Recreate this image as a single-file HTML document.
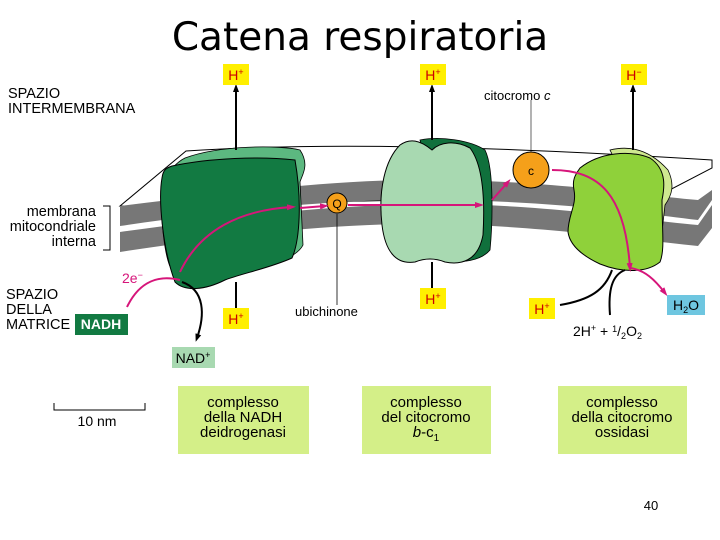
<!DOCTYPE html>
<html><head><style>
body{margin:0;background:#fff;}
svg{display:block;font-family:"Liberation Sans",Arial,sans-serif;}
</style></head><body>
<svg width="720" height="540" viewBox="0 0 720 540" xmlns="http://www.w3.org/2000/svg">
<defs>
<marker id="ab" markerWidth="8" markerHeight="8" refX="4" refY="4" orient="auto" markerUnits="userSpaceOnUse"><path d="M0,1 L8,4 L0,7 Z" fill="#000"/></marker>
<marker id="am" markerWidth="9" markerHeight="8" refX="5" refY="4" orient="auto" markerUnits="userSpaceOnUse"><path d="M0,1 L9,4 L0,7 Z" fill="#d6157a"/></marker>
</defs>
<text x="360" y="50" text-anchor="middle" font-size="39" font-family="'Comic Sans MS','DejaVu Sans',sans-serif" fill="#000">Catena respiratoria</text>

<g font-size="14.5">
<text x="8" y="98">SPAZIO</text>
<text x="8" y="113">INTERMEMBRANA</text>
<text x="96" y="216" text-anchor="end">membrana</text>
<text x="96" y="231" text-anchor="end">mitocondriale</text>
<text x="96" y="246" text-anchor="end">interna</text>
<text x="6" y="299">SPAZIO</text>
<text x="6" y="314">DELLA</text>
<text x="6" y="329">MATRICE</text>
</g>
<path d="M103,206 H110 V250 H103" fill="none" stroke="#000" stroke-width="1"/>

<!-- top plane -->
<path d="M120,206 L186,151 C350,140 550,150 712,160 L712,168 L660,195 L120,206 Z" fill="#fff" stroke="#000" stroke-width="1"/>
<path d="M120,206 C250,190 350,178 450,180 C560,182 640,195 698,200 L712,190 L712,200 L698,220 C640,213 560,202 450,200 C350,198 250,207 120,226 Z" fill="#777" />
<path d="M120,232 C250,214 350,203 450,204 C560,206 640,220 698,225 L712,205 L712,228 L698,246 C640,240 560,228 450,224 C350,222 250,232 120,252 Z" fill="#777"/>

<!-- complex I -->
<path d="M185,158 C220,145 280,145 300,150 C310,165 302,175 300,182 L303,245 C295,262 250,270 240,275 L190,285 C170,280 165,260 162,220 C162,190 165,168 185,158 Z" fill="#5cb880" stroke="#000" stroke-width="0.8"/>
<path d="M172,166 C210,158 260,156 295,160 C302,200 300,240 292,258 C270,268 240,274 225,280 C205,290 185,292 175,282 C163,250 158,200 162,178 C163,170 166,168 172,166 Z" fill="#127a42" stroke="#000" stroke-width="1"/>
<!-- complex III -->
<path d="M420,140 C440,136 470,140 485,150 C495,170 492,230 490,250 C480,262 460,262 450,262 L420,140 Z" fill="#10703c" stroke="#000" stroke-width="0.8"/>
<path d="M400,145 C410,138 420,140 432,150 C440,142 455,140 470,148 C483,165 485,200 483,235 C478,262 460,265 445,262 C435,258 425,258 415,262 C395,265 385,250 382,225 C378,190 385,160 400,145 Z" fill="#a8d9b1" stroke="#000" stroke-width="1"/>
<!-- complex IV -->
<path d="M610,150 C630,145 650,150 668,170 C675,185 672,195 665,205 L660,250 L610,150 Z" fill="#cfe890" stroke="#000" stroke-width="0.8"/>
<path d="M580,168 C600,152 630,150 650,158 C668,170 664,190 662,200 C662,230 665,250 660,262 C645,274 620,272 600,264 C585,257 570,247 568,232 C568,215 577,205 574,190 C572,180 575,175 580,168 Z" fill="#8fd13a" stroke="#000" stroke-width="1"/>

<!-- Q and c -->
<line x1="337" y1="214" x2="337" y2="305" stroke="#000" stroke-width="0.8"/>
<circle cx="337" cy="203" r="10" fill="#f5a01a" stroke="#000" stroke-width="1"/>
<text x="337" y="208" font-size="12" text-anchor="middle">Q</text>
<line x1="531" y1="100" x2="531" y2="152" stroke="#000" stroke-width="0.6"/>
<circle cx="531" cy="170" r="18" fill="#f5a01a" stroke="#000" stroke-width="1"/>
<text x="531" y="175" font-size="12" text-anchor="middle">c</text>
<text x="484" y="100" font-size="13">citocromo <tspan font-style="italic">c</tspan></text>
<text x="295" y="316" font-size="13">ubichinone</text>

<!-- magenta paths -->
<path d="M180,272 C200,230 240,210 292,207" fill="none" stroke="#d6157a" stroke-width="2" marker-end="url(#am)"/>
<path d="M300,208 L325,206" fill="none" stroke="#d6157a" stroke-width="2" marker-end="url(#am)"/>
<path d="M348,205 L480,205" fill="none" stroke="#d6157a" stroke-width="2" marker-end="url(#am)"/>
<path d="M492,200 L508,182" fill="none" stroke="#d6157a" stroke-width="2" marker-end="url(#am)"/>
<path d="M552,170 C600,170 625,195 630,268" fill="none" stroke="#d6157a" stroke-width="2" marker-end="url(#am)"/>
<path d="M630,268 C645,270 655,280 665,293" fill="none" stroke="#d6157a" stroke-width="2" marker-end="url(#am)"/>
<path d="M127,307 C140,280 160,275 180,280" fill="none" stroke="#d6157a" stroke-width="2"/>
<text x="122" y="283" font-size="14" fill="#d6157a">2e<tspan font-size="9" dy="-5">−</tspan></text>

<!-- black arrows -->
<line x1="236" y1="150" x2="236" y2="88" stroke="#000" stroke-width="2" marker-end="url(#ab)"/>
<line x1="236" y1="282" x2="236" y2="310" stroke="#000" stroke-width="2"/>
<line x1="432" y1="140" x2="432" y2="88" stroke="#000" stroke-width="2" marker-end="url(#ab)"/>
<line x1="432" y1="262" x2="432" y2="290" stroke="#000" stroke-width="2"/>
<line x1="633" y1="150" x2="633" y2="88" stroke="#000" stroke-width="2" marker-end="url(#ab)"/>
<path d="M182,282 C205,290 205,315 197,338" fill="none" stroke="#000" stroke-width="2" marker-end="url(#ab)"/>
<path d="M560,305 C590,300 605,290 612,270" fill="none" stroke="#000" stroke-width="2"/>
<path d="M610,315 C608,290 612,275 625,270" fill="none" stroke="#000" stroke-width="2"/>

<g font-size="14">
<rect x="223" y="64" width="26" height="21" fill="#ffef00"/><text x="236" y="80" text-anchor="middle" fill="#c00">H<tspan font-size="9" dy="-5">+</tspan></text>
<rect x="420" y="64" width="26" height="21" fill="#ffef00"/><text x="433" y="80" text-anchor="middle" fill="#c00">H<tspan font-size="9" dy="-5">+</tspan></text>
<rect x="621" y="64" width="26" height="21" fill="#ffef00"/><text x="634" y="80" text-anchor="middle" fill="#c00">H<tspan font-size="9" dy="-5">−</tspan></text>
<rect x="223" y="308" width="26" height="21" fill="#ffef00"/><text x="236" y="324" text-anchor="middle" fill="#c00">H<tspan font-size="9" dy="-5">+</tspan></text>
<rect x="420" y="288" width="26" height="21" fill="#ffef00"/><text x="433" y="304" text-anchor="middle" fill="#c00">H<tspan font-size="9" dy="-5">+</tspan></text>
<rect x="529" y="298" width="26" height="21" fill="#ffef00"/><text x="542" y="314" text-anchor="middle" fill="#c00">H<tspan font-size="9" dy="-5">+</tspan></text>
<rect x="667" y="295" width="38" height="20" fill="#6ec6e0"/><text x="686" y="310" text-anchor="middle">H<tspan font-size="9" dy="3">2</tspan><tspan dy="-3">O</tspan></text>
<rect x="75" y="314" width="53" height="21" fill="#127a42"/><text x="101" y="329" text-anchor="middle" fill="#fff" font-weight="bold">NADH</text>
<rect x="172" y="347" width="43" height="21" fill="#a8d9b1"/><text x="193" y="363" text-anchor="middle">NAD<tspan font-size="9" dy="-5">+</tspan></text>
<text x="573" y="336">2H<tspan font-size="9" dy="-5">+</tspan><tspan dy="5"> + </tspan><tspan font-size="9" dy="-4">1</tspan><tspan dy="4">/</tspan><tspan font-size="9" dy="3">2</tspan><tspan dy="-3">O</tspan><tspan font-size="9" dy="3">2</tspan></text>
</g>

<path d="M54,403 V410 H145 V403" fill="none" stroke="#000" stroke-width="1"/>
<text x="97" y="426" font-size="14" text-anchor="middle">10 nm</text>

<g font-size="15" text-anchor="middle">
<rect x="178" y="386" width="131" height="68" fill="#d4ef88"/>
<text x="243" y="407">complesso</text><text x="243" y="422">della NADH</text><text x="243" y="437">deidrogenasi</text>
<rect x="362" y="386" width="129" height="68" fill="#d4ef88"/>
<text x="426" y="407">complesso</text><text x="426" y="422">del citocromo</text><text x="426" y="437"><tspan font-style="italic">b</tspan>-c<tspan font-size="10" dy="4">1</tspan></text>
<rect x="558" y="386" width="129" height="68" fill="#d4ef88"/>
<text x="622" y="407">complesso</text><text x="622" y="422">della citocromo</text><text x="622" y="437">ossidasi</text>
</g>
<text x="651" y="510" font-size="13" text-anchor="middle">40</text>
</svg>
</body></html>
